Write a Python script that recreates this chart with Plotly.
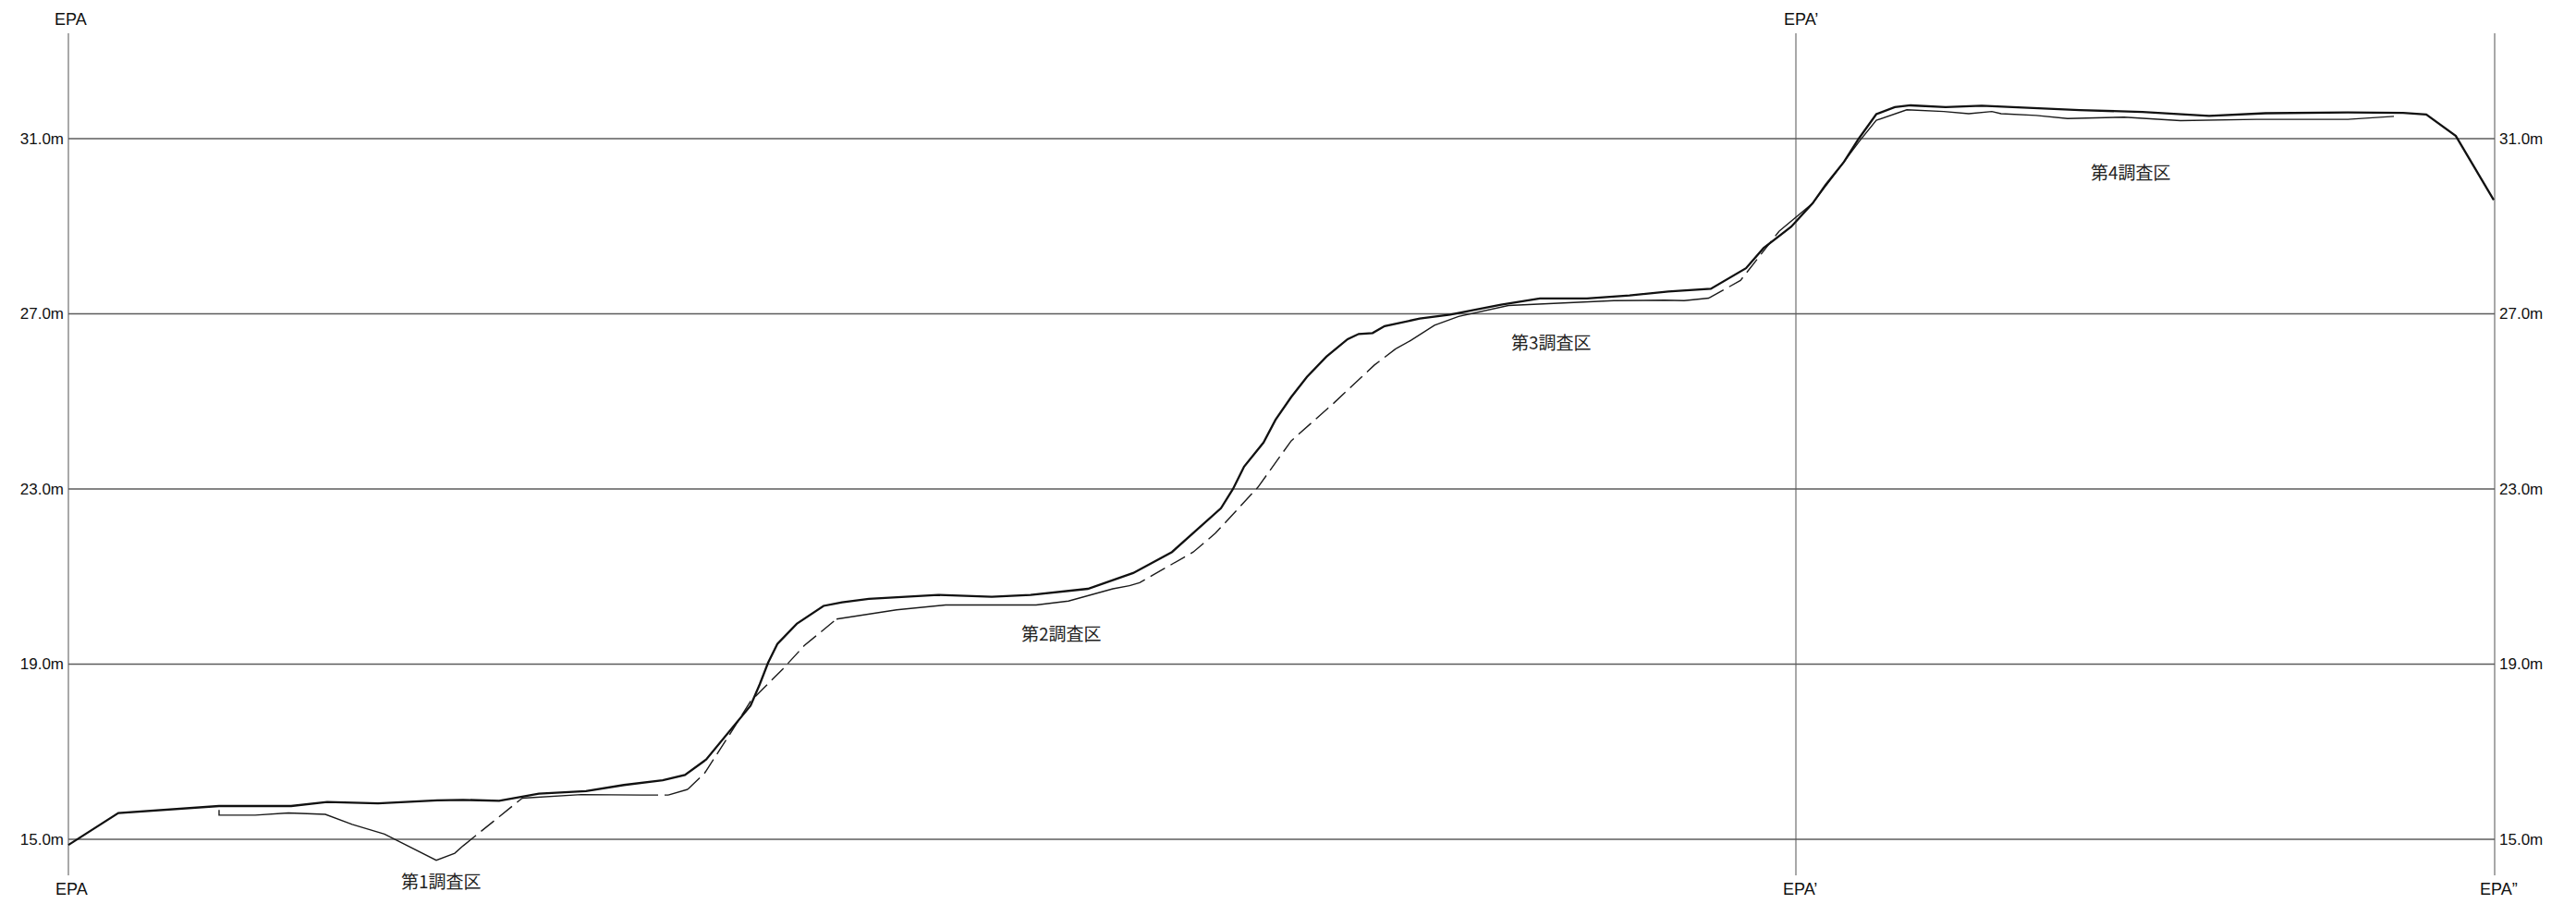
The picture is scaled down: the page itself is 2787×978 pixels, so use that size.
import plotly.graph_objects as go

# ---------------- data ----------------
# distance along the section (EPA = 0, EPA' and EPA'' station marks)
stations = [0.0, 186.9, 262.5]
station_top_labels = ["EPA", "EPA\u2019", "EPA\u201d"]
station_bottom_labels = ["EPA", "EPA\u2019", "EPA\u201d"]

# elevation grid / tick labels
elev_ticks = [15.0, 19.0, 23.0, 27.0, 31.0]
elev_tick_text = ["15.0m", "19.0m", "23.0m", "27.0m", "31.0m"]

# present ground surface (thick line)
surface_x = [0.0, 5.4, 16.3, 24.1, 28.0, 33.5, 39.9, 42.7, 46.6, 50.9, 56.0, 60.1,
             64.3, 66.7, 69.0, 71.7, 73.8, 74.8, 75.7, 76.7, 78.8, 81.7, 83.7, 86.6,
             90.8, 94.1, 99.9, 104.1, 110.3, 115.2, 119.4, 122.6, 124.7, 126.0, 127.2,
             129.3, 130.6, 132.3, 134.0, 136.1, 138.4, 139.6, 141.1, 142.4, 146.2,
             149.5, 155.0, 159.2, 164.3, 168.9, 173.1, 177.7, 181.5, 183.4, 186.4,
             188.7, 190.1, 192.1, 193.7, 195.6, 197.6, 199.3, 203.1, 207.0, 210.6,
             217.6, 224.4, 231.6, 237.7, 246.6, 252.6, 255.1, 258.3, 262.4]
surface_z = [14.87, 15.60, 15.76, 15.76, 15.85, 15.82, 15.89, 15.90, 15.88, 16.04, 16.10, 16.24,
             16.35, 16.47, 16.82, 17.52, 18.05, 18.54, 19.03, 19.46, 19.92, 20.33, 20.41, 20.49,
             20.54, 20.58, 20.54, 20.58, 20.72, 21.08, 21.56, 22.17, 22.56, 23.00, 23.51,
             24.06, 24.58, 25.10, 25.56, 26.02, 26.42, 26.54, 26.56, 26.72, 26.89,
             26.98, 27.21, 27.35, 27.35, 27.42, 27.51, 27.57, 28.04, 28.50, 28.99,
             29.52, 29.94, 30.47, 31.00, 31.56, 31.72, 31.76, 31.72, 31.75, 31.72,
             31.65, 31.61, 31.52, 31.58, 31.60, 31.59, 31.55, 31.06, 29.60]

# older / excavated surface (thin line, partly dashed where inferred)
old_x = [16.3, 16.3, 20.2, 23.8, 27.8, 30.7, 34.2, 37.6, 39.8, 41.8, 42.7,
         49.1, 55.5, 62.0, 64.9, 67.0, 68.8, 71.5, 73.8, 77.3, 79.6, 83.1,
         89.6, 94.9, 104.7, 108.2, 113.0, 114.8, 115.9, 121.7, 124.1, 128.7,
         132.3, 136.9, 141.3, 143.6, 145.3, 147.8, 150.4, 155.8, 162.2, 167.2,
         172.7, 174.8, 177.5, 180.9, 185.1, 188.7, 192.1, 193.8, 195.6, 198.9,
         202.9, 205.6, 208.1, 209.1, 212.9, 216.3, 222.4, 228.5, 236.7, 246.6, 251.6]
old_z = [15.67, 15.55, 15.55, 15.60, 15.57, 15.34, 15.12, 14.76, 14.52, 14.68, 14.85,
         15.94, 16.02, 16.01, 16.01, 16.14, 16.50, 17.38, 18.15, 18.89, 19.42, 20.03,
         20.24, 20.35, 20.35, 20.44, 20.72, 20.79, 20.86, 21.56, 21.99, 23.04,
         24.10, 24.96, 25.83, 26.20, 26.40, 26.74, 26.94, 27.19, 27.25, 27.30,
         27.31, 27.30, 27.36, 27.76, 28.89, 29.52, 30.47, 30.95, 31.42, 31.66,
         31.62, 31.57, 31.62, 31.57, 31.53, 31.46, 31.49, 31.41, 31.44, 31.44, 31.51]
# pieces of the thin line: (first index, last index, drawn solid?)
old_pieces = [(0, 10, True), (10, 11, False), (11, 13, True), (13, 14, False),
              (14, 15, True), (15, 21, False), (21, 27, True), (27, 35, False),
              (35, 44, True), (44, 46, False), (46, 62, True)]

# survey-area labels
area_names = ["第1調査区", "第2調査区", "第3調査区", "第4調査区"]
area_x = [40.3, 107.4, 160.4, 223.1]
area_z = [14.05, 19.71, 26.36, 30.24]

# ---------------- figure ----------------
W, H = 2787, 978
Y_RANGE = [13.522, 34.166]
X_RANGE = [-0.4, 262.9]
AX_FONT = dict(family="Liberation Sans, Arial, sans-serif", size=17, color="#111")

fig = go.Figure()

for a, b, solid in old_pieces:
    fig.add_trace(go.Scatter(
        x=old_x[a:b + 1], y=old_z[a:b + 1], mode="lines",
        line=dict(color="#1a1a1a", width=1.4, dash="solid" if solid else "18px,7px"),
        hoverinfo="skip", showlegend=False))

fig.add_trace(go.Scatter(
    x=surface_x, y=surface_z, mode="lines",
    line=dict(color="#111111", width=2.3),
    hoverinfo="skip", showlegend=False))

# invisible trace to carry the right-hand elevation axis
fig.add_trace(go.Scatter(x=[stations[-1]] * len(elev_ticks), y=elev_ticks, yaxis="y2",
                         mode="markers", marker=dict(opacity=0), hoverinfo="skip",
                         showlegend=False))

shapes = []
for v in elev_ticks:
    shapes.append(dict(type="line", xref="x", yref="y", x0=stations[0], x1=stations[-1],
                       y0=v, y1=v, line=dict(color="#5c5c5c", width=1.4), layer="below"))
for s in stations:
    shapes.append(dict(type="line", xref="x", yref="paper", x0=s, x1=s,
                       y0=1 - 947 / H, y1=1 - 36 / H,
                       line=dict(color="#7a7a7a", width=1.3), layer="below"))

annotations = []
top_off = [0.2, 0.5, 0.7]
bot_off = [0.35, 0.4, 0.4]
for s, t, o in zip(stations, station_top_labels, top_off):
    annotations.append(dict(x=s + o, y=1 - 21 / H, xref="x", yref="paper", text=t,
                            showarrow=False, xanchor="center", yanchor="middle",
                            font=dict(family=AX_FONT["family"], size=18, color="#111")))
for s, t, o in zip(stations, station_bottom_labels, bot_off):
    annotations.append(dict(x=s + o, y=1 - 962 / H, xref="x", yref="paper", text=t,
                            showarrow=False, xanchor="center", yanchor="middle",
                            font=dict(family=AX_FONT["family"], size=18, color="#111")))
for name, ax_, az in zip(area_names, area_x, area_z):
    annotations.append(dict(x=ax_, y=az, xref="x", yref="y", text=name, showarrow=False,
                            xanchor="center", yanchor="middle",
                            font=dict(family="Noto Sans CJK JP, sans-serif", size=19,
                                      color="#222")))

yaxis_common = dict(range=Y_RANGE, tickvals=elev_ticks, ticktext=elev_tick_text,
                    showgrid=False, zeroline=False, showline=False, ticks="",
                    tickfont=AX_FONT, fixedrange=True)

fig.update_layout(
    width=W, height=H,
    margin=dict(l=70, r=84, t=0, b=0, pad=0),
    paper_bgcolor="white", plot_bgcolor="white",
    xaxis=dict(range=X_RANGE, visible=False, fixedrange=True),
    yaxis=dict(**yaxis_common, side="left"),
    yaxis2=dict(**yaxis_common, side="right", overlaying="y"),
    shapes=shapes, annotations=annotations, showlegend=False,
)

fig.write_html("out.html")
